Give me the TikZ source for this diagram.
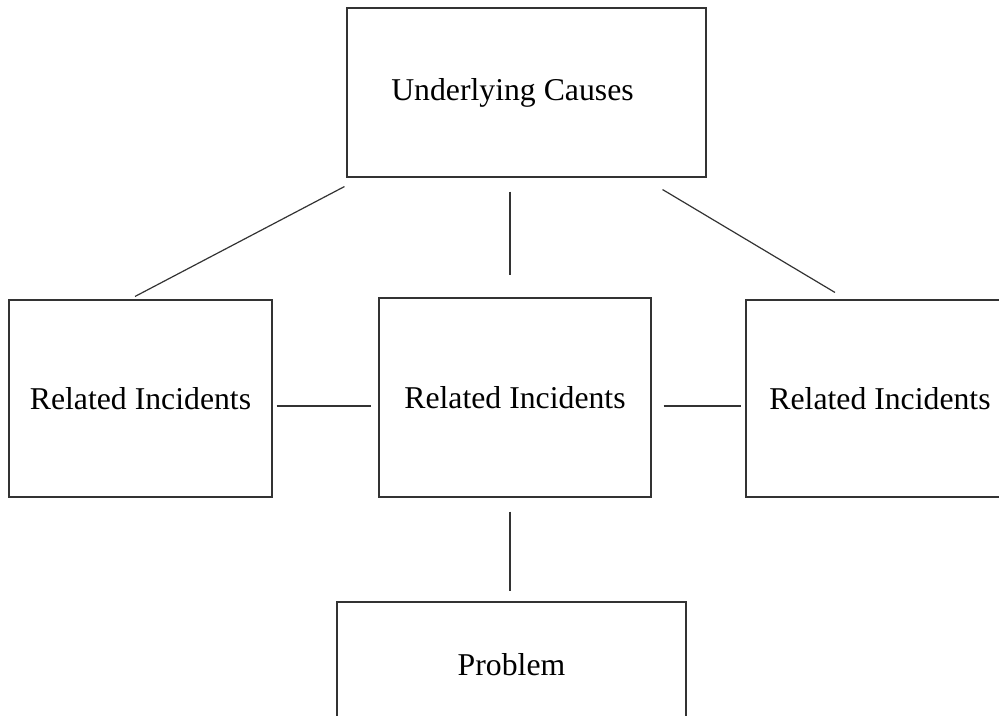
\documentclass[tikz,border=0pt]{standalone}
\usepackage{fontspec}
\setmainfont{Liberation Serif}
\begin{document}
\begin{tikzpicture}[x=0.75pt,y=-0.75pt,
    box/.style={draw=black!80,line width=0.8pt,inner sep=0,
      font=\fontsize{23.8}{28}\selectfont},
    link/.style={draw=black!80,line width=0.9pt}]
    \useasboundingbox(0,0)rectangle(999,715);
    \clip(0,0)rectangle(999,715);
    \node[box,minimum width=0.75*359pt,minimum height=0.75*169pt](cause)at(526.5,92.5){Underlying Causes\rule{21pt}{0pt}};
    \node[box,minimum width=0.75*263pt,minimum height=0.75*197pt](inc1)at(140.5,398.5){Related Incidents};
    \node[box,minimum width=0.75*272pt,minimum height=0.75*199pt](inc2)at(515,397.5){Related Incidents};
    \node[box,minimum width=0.75*268pt,minimum height=0.75*197pt](inc3)at(880,398.5){Related Incidents};
    \node[box,minimum width=0.75*349pt,minimum height=0.75*126pt](prob)at(511.5,665){Problem};
    \path[link]([shift={(-2,9)}]cause.south west)--([shift={(-5.5,-3)}]inc1.north);
    \path[link]([shift={(-16.5,14)}]cause.south)--([shift={(-5,-22)}]inc2.north);
    \path[link]([shift={(-44,12)}]cause.south east)--([shift={(-45,-7)}]inc3.north);
    \path[link]([shift={(4,7.5)}]inc1.east)--([shift={(-7,8.5)}]inc2.west);
    \path[link]([shift={(12,8.5)}]inc2.east)--([shift={(-4,7.5)}]inc3.west);
    \path[link]([shift={(-5,14)}]inc2.south)--([shift={(-1.5,-10)}]prob.north);
\end{tikzpicture}
\end{document}
